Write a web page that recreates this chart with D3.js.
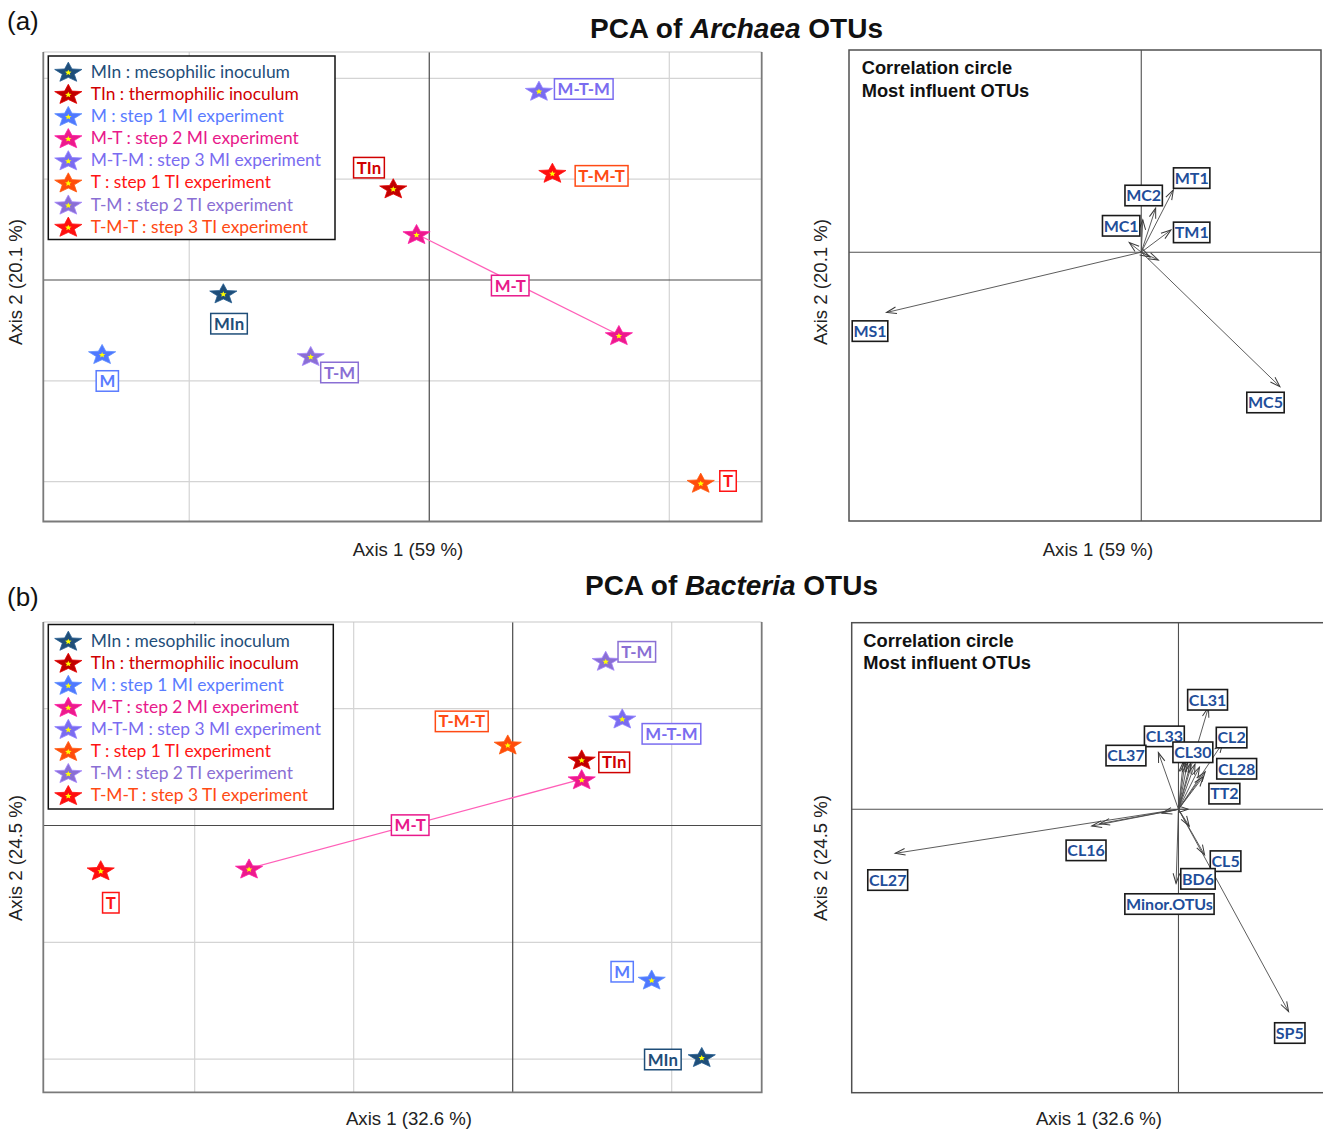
<!DOCTYPE html>
<html>
<head>
<meta charset="utf-8">
<script src="https://cdn.jsdelivr.net/npm/d3@7"></script>
<style>
  body { margin: 0; background: #fff; }
  svg { display: block; }
</style>
</head>
<body>
<svg id="fig" width="1323" height="1129"></svg>
<script>
// ---------- sample groups ----------
const groups = ["MIn", "TIn", "M", "M-T", "M-T-M", "T", "T-M", "T-M-T"];
const legendLabels = [
  "MIn : mesophilic inoculum",
  "TIn : thermophilic inoculum",
  "M : step 1 MI experiment",
  "M-T : step 2 MI experiment",
  "M-T-M : step 3 MI experiment",
  "T : step 1 TI experiment",
  "T-M : step 2 TI experiment",
  "T-M-T : step 3 TI experiment"
];
const markerColors = ["#1f4e79", "#c00000", "#4f78ff", "#ec1a8c", "#7a6cf0", "#ff4c0c", "#8a6fd4", "#ff0f0f"];
const textColors   = ["#1f4e79", "#d00000", "#5a7cff", "#e8198b", "#7a6cf0", "#ff1414", "#8a6fd4", "#ff4a14"];

// ---------- Archaea PCA : sample scores ----------
const archaeaSamples = ["MIn", "TIn", "M", "M-T", "M-T", "M-T-M", "T", "T-M", "T-M-T"];
const archaeaAxis1 = [-0.858, -0.150, -1.363, -0.053, 0.790, 0.457, 1.131, -0.494, 0.513];
const archaeaAxis2 = [-0.132, 0.910, -0.734, 0.456, -0.546, 1.878, -2.011, -0.754, 1.064];

// ---------- Archaea PCA : OTU correlation circle ----------
const archaeaOtus  = ["MS1", "MC5", "MT1", "MC2", "MC1", "TM1", "", "", ""];
const archaeaLoad1 = [-0.849, 0.462, 0.107, 0.048, 0.005, 0.099, -0.040, 0.057, 0.029];
const archaeaLoad2 = [-0.201, -0.448, 0.208, 0.147, 0.108, 0.074, 0.032, -0.026, -0.016];
const archaeaOtuLab1 = [-0.904, 0.414, 0.168, 0.008, -0.067, 0.168];
const archaeaOtuLab2 = [-0.263, -0.501, 0.247, 0.189, 0.088, 0.066];

// ---------- Bacteria PCA : sample scores ----------
const bacteriaSamples = ["MIn", "TIn", "M", "M-T", "M-T", "M-T-M", "T", "T-M", "T-M-T"];
const bacteriaAxis1 = [1.189, 0.434, 0.874, 0.434, -1.658, 0.689, -2.591, 0.585, -0.031];
const bacteriaAxis2 = [-1.981, 0.565, -1.318, 0.396, -0.368, 0.916, -0.383, 1.409, 0.693];

// ---------- Bacteria PCA : OTU correlation circle ----------
const bacteriaOtus  = ["CL27", "CL16", "SP5", "CL5", "BD6", "Minor.OTUs", "CL31", "CL33", "CL37", "CL30", "CL2", "CL28", "TT2",
                       "", "", "", "", "", "", ""];
const bacteriaLoad1 = [-0.944, -0.289, 0.367, 0.087, 0.036, -0.008, 0.100, 0.016, -0.067, 0.022, 0.148, 0.089, 0.083,
                       -0.262, -0.055, 0.033, 0.030, 0.040, 0.055, 0.070];
const bacteriaLoad2 = [-0.147, -0.056, -0.675, -0.152, -0.056, -0.247, 0.340, 0.158, 0.189, 0.158, 0.222, 0.125, 0.109,
                       -0.048, -0.013, 0.000, 0.155, 0.153, 0.150, 0.140];
const bacteriaOtuLab1 = [-0.969, -0.308, 0.371, 0.157, 0.065, -0.030, 0.097, -0.047, -0.175, 0.048, 0.177, 0.194, 0.153];
const bacteriaOtuLab2 = [-0.236, -0.137, -0.746, -0.173, -0.232, -0.316, 0.365, 0.243, 0.179, 0.190, 0.239, 0.135, 0.052];

// ---------- panel layout ----------
const panels = [
  {
    tag: "(a)", tagY: 29.5, titleX: 736.5, titleY: 37.5, taxon: "Archaea",
    ax1: "Axis 1 (59 %)", ax2: "Axis 2 (20.1 %)",
    samples: archaeaSamples, s1: archaeaAxis1, s2: archaeaAxis2,
    pointColor: {},
    scatter: { left: 43.3, right: 761.7, top: 52, bottom: 521.5, xDom: [-1.608, 1.385], yDom: [-2.396, 2.262],
               xTicks: [-1, 0, 1], yTicks: [-2, -1, 0, 1, 2] },
    legend: { x: 48.3, y: 56, w: 286.7, h: 183.5, row0: 71.7, rowStep: 22.14 },
    labelOffsets: { "MIn": [5.7, 30.4], "M": [5.2, 27], "T-M": [28.8, 16.5], "M-T-M": [44.8, -1.7],
                    "TIn": [-24.3, -20.6], "T-M-T": [49.2, 3.1], "T": [27.3, -1.7], "M-T": [-7.5, 1] },
    otus: archaeaOtus, l1: archaeaLoad1, l2: archaeaLoad2, lab1: archaeaOtuLab1, lab2: archaeaOtuLab2,
    circle: { left: 849, right: 1321, top: 50, bottom: 521, xDom: [-0.974, 0.599], yDom: [-0.896, 0.674], titleX: 861.7, titleY: 74 },
    axisY: 555.5, scatterAxisX: 408, circleAxisX: 1098, ax2Y: 282
  },
  {
    tag: "(b)", tagY: 605.5, titleX: 731.5, titleY: 594.5, taxon: "Bacteria",
    ax1: "Axis 1 (32.6 %)", ax2: "Axis 2 (24.5 %)",
    samples: bacteriaSamples, s1: bacteriaAxis1, s2: bacteriaAxis2,
    pointColor: { "T": "#ff0f0f", "T-M-T": "#ff4c0c" },
    scatter: { left: 43.3, right: 761.7, top: 622, bottom: 1092.3, xDom: [-2.952, 1.566], yDom: [-2.283, 1.741],
               xTicks: [-2, -1, 0, 1], yTicks: [-2, -1, 0, 1] },
    legend: { x: 48.3, y: 624.5, w: 285, h: 184.5, row0: 640.7, rowStep: 22.05 },
    labelOffsets: { "MIn": [-38.9, 2.5], "M": [-29.5, -7.8], "T-M": [31.1, -9], "M-T-M": [49.2, 15.4],
                    "TIn": [32.5, 2.9], "T-M-T": [-46, -23.1], "T": [10.1, 32.5], "M-T": [-5.2, 1.3] },
    otus: bacteriaOtus, l1: bacteriaLoad1, l2: bacteriaLoad2, lab1: bacteriaOtuLab1, lab2: bacteriaOtuLab2,
    circle: { left: 851.7, right: 1330, top: 622.7, bottom: 1092.7, xDom: [-1.089, 0.505], yDom: [-0.945, 0.622], titleX: 863.3, titleY: 646.7 },
    axisY: 1124.5, scatterAxisX: 409, circleAxisX: 1099, ax2Y: 858
  }
];

const SANS = "'Liberation Sans', Arial, sans-serif";
const LABELFONT = "Lato, 'Open Sans', sans-serif";

const svg = d3.select("#fig");
const defs = svg.append("defs");
defs.append("marker")
  .attr("id", "openArrow")
  .attr("viewBox", "-12 -6 14 12")
  .attr("refX", 0).attr("refY", 0)
  .attr("markerWidth", 14).attr("markerHeight", 12)
  .attr("markerUnits", "userSpaceOnUse")
  .attr("orient", "auto")
  .append("path")
  .attr("d", "M-10,-3.3L0,0L-10,3.3")
  .attr("fill", "none")
  .attr("stroke", "#3a3a3a")
  .attr("stroke-width", 1);

// five-pointed star, slightly flattened like the spreadsheet marker
function starD(R, ratio, squash) {
  const pts = d3.range(10).map(k => {
    const a = -Math.PI / 2 + k * Math.PI / 5;
    const r = k % 2 ? R * ratio : R;
    return [r * Math.cos(a), r * Math.sin(a) * squash];
  });
  return d3.line()(pts) + "Z";
}
const starOuter = 14.3;
const starPath = starD(starOuter, 0.44, 0.74);
const starDot  = starD(3.4, 0.45, 0.9);
const starShift = 0.0955 * starOuter * 0.74;

function drawStar(g, cx, cy, color) {
  const s = g.append("g").attr("transform", `translate(${cx},${cy + starShift})`);
  s.append("path").attr("d", starPath)
    .attr("fill", color).attr("stroke", d3.color(color).brighter(0.5)).attr("stroke-width", 0.8)
    .attr("stroke-linejoin", "miter");
  s.append("path").attr("d", starDot).attr("fill", "#ffff00");
}

function boxLabel(g, cx, cy, text, o) {
  const grp = g.append("g");
  const rect = grp.append("rect");
  const t = grp.append("text")
    .attr("x", cx).attr("y", cy + o.size * 0.36)
    .attr("text-anchor", "middle")
    .attr("font-family", LABELFONT)
    .attr("font-weight", 700)
    .attr("font-size", o.size)
    .attr("fill", o.color)
    .text(text);
  const w = t.node().getComputedTextLength();
  rect.attr("x", cx - w / 2 - o.pad).attr("y", cy - o.h / 2)
    .attr("width", w + 2 * o.pad).attr("height", o.h)
    .attr("fill", "#fff").attr("stroke", o.stroke).attr("stroke-width", o.sw);
}

function drawScatter(p) {
  const c = p.scatter;
  const g = svg.append("g");
  const x = d3.scaleLinear().domain(c.xDom).range([c.left, c.right]);
  const y = d3.scaleLinear().domain(c.yDom).range([c.bottom, c.top]);

  // light grid
  g.selectAll(null).data(c.xTicks.filter(t => t !== 0)).join("line")
    .attr("x1", d => x(d)).attr("x2", d => x(d)).attr("y1", c.top).attr("y2", c.bottom)
    .attr("stroke", "#d4d4d4").attr("stroke-width", 1.2);
  g.selectAll(null).data(c.yTicks.filter(t => t !== 0)).join("line")
    .attr("y1", d => y(d)).attr("y2", d => y(d)).attr("x1", c.left).attr("x2", c.right)
    .attr("stroke", "#d4d4d4").attr("stroke-width", 1.2);
  // zero axes
  g.append("line").attr("x1", x(0)).attr("x2", x(0)).attr("y1", c.top).attr("y2", c.bottom)
    .attr("stroke", "#4a4a4a").attr("stroke-width", 1.2);
  g.append("line").attr("y1", y(0)).attr("y2", y(0)).attr("x1", c.left).attr("x2", c.right)
    .attr("stroke", "#4a4a4a").attr("stroke-width", 1.2);
  // plot frame
  g.append("line").attr("x1", c.left).attr("x2", c.right).attr("y1", c.top).attr("y2", c.top)
    .attr("stroke", "#c8c8c8").attr("stroke-width", 1.2);
  g.append("path")
    .attr("d", `M${c.left},${c.top}V${c.bottom}H${c.right}V${c.top}`)
    .attr("fill", "none").attr("stroke", "#7a7a7a").attr("stroke-width", 1.8);

  // legend
  const L = p.legend;
  const lg = g.append("g");
  lg.append("rect").attr("x", L.x).attr("y", L.y).attr("width", L.w).attr("height", L.h)
    .attr("fill", "#fff").attr("stroke", "#111").attr("stroke-width", 1.5);
  groups.forEach((grp, i) => {
    const ry = L.row0 + i * L.rowStep;
    drawStar(lg, 68.3, ry, markerColors[i]);
    lg.append("text").attr("x", 90.7).attr("y", ry + 6)
      .attr("font-family", LABELFONT).attr("font-size", 17.4)
      .attr("fill", textColors[i]).text(legendLabels[i]);
  });

  // points
  const pts = p.samples.map((s, i) => ({ s, px: x(p.s1[i]), py: y(p.s2[i]), k: groups.indexOf(s) }));
  // M-T trajectory segment
  const mt = pts.filter(d => d.s === "M-T");
  g.append("line").attr("x1", mt[0].px).attr("y1", mt[0].py).attr("x2", mt[1].px).attr("y2", mt[1].py)
    .attr("stroke", "#ff5fb8").attr("stroke-width", 1.3);
  pts.forEach(d => drawStar(g, d.px, d.py, p.pointColor[d.s] || markerColors[d.k]));

  // labels
  const done = new Set();
  pts.forEach(d => {
    if (done.has(d.s)) return;
    done.add(d.s);
    const off = p.labelOffsets[d.s];
    let cx = d.px + off[0], cy = d.py + off[1];
    if (d.s === "M-T") {
      cx = (mt[0].px + mt[1].px) / 2 + off[0];
      cy = (mt[0].py + mt[1].py) / 2 + off[1];
    }
    boxLabel(g, cx, cy, d.s, { size: 16.8, color: textColors[d.k], stroke: textColors[d.k], pad: 3.2, h: 20.5, sw: 1.5 });
  });

  // axis titles
  svg.append("text").attr("x", p.scatterAxisX).attr("y", p.axisY).attr("text-anchor", "middle")
    .attr("font-family", SANS).attr("font-size", 18.6).attr("fill", "#222").text(p.ax1);
  svg.append("text").attr("transform", `translate(22,${p.ax2Y}) rotate(-90)`).attr("text-anchor", "middle")
    .attr("font-family", SANS).attr("font-size", 18.6).attr("fill", "#222").text(p.ax2);
}

function drawCircle(p) {
  const c = p.circle;
  const g = svg.append("g");
  const x = d3.scaleLinear().domain(c.xDom).range([c.left, c.right]);
  const y = d3.scaleLinear().domain(c.yDom).range([c.bottom, c.top]);

  g.append("rect").attr("x", c.left).attr("y", c.top).attr("width", c.right - c.left).attr("height", c.bottom - c.top)
    .attr("fill", "#fff").attr("stroke", "#505050").attr("stroke-width", 1.5);
  g.append("line").attr("x1", x(0)).attr("x2", x(0)).attr("y1", c.top).attr("y2", c.bottom)
    .attr("stroke", "#505050").attr("stroke-width", 1.1);
  g.append("line").attr("y1", y(0)).attr("y2", y(0)).attr("x1", c.left).attr("x2", c.right)
    .attr("stroke", "#505050").attr("stroke-width", 1.1);

  g.append("text").attr("x", c.titleX).attr("y", c.titleY)
    .attr("font-family", SANS).attr("font-weight", 700).attr("font-size", 18.3).attr("fill", "#111")
    .text("Correlation circle");
  g.append("text").attr("x", c.titleX).attr("y", c.titleY + 22.7)
    .attr("font-family", SANS).attr("font-weight", 700).attr("font-size", 18.3).attr("fill", "#111")
    .text("Most influent OTUs");

  // loading arrows
  g.selectAll(null).data(p.otus.map((n, i) => i)).join("line")
    .attr("x1", x(0)).attr("y1", y(0))
    .attr("x2", i => x(p.l1[i])).attr("y2", i => y(p.l2[i]))
    .attr("stroke", "#4a4a4a").attr("stroke-width", 0.9)
    .attr("marker-end", "url(#openArrow)");

  // OTU labels
  p.otus.forEach((n, i) => {
    if (!n) return;
    boxLabel(g, x(p.lab1[i]), y(p.lab2[i]), n, { size: 16, color: "#1f4e9a", stroke: "#1a1a1a", pad: 1.2, h: 20.5, sw: 1.6 });
  });

  svg.append("text").attr("x", p.circleAxisX).attr("y", p.axisY).attr("text-anchor", "middle")
    .attr("font-family", SANS).attr("font-size", 18.6).attr("fill", "#222").text(p.ax1);
  svg.append("text").attr("transform", `translate(827,${p.ax2Y}) rotate(-90)`).attr("text-anchor", "middle")
    .attr("font-family", SANS).attr("font-size", 18.6).attr("fill", "#222").text(p.ax2);
}

panels.forEach(p => {
  svg.append("text").attr("x", 7).attr("y", p.tagY)
    .attr("font-family", SANS).attr("font-size", 26).attr("fill", "#111").text(p.tag);
  const t = svg.append("text").attr("x", p.titleX).attr("y", p.titleY).attr("text-anchor", "middle")
    .attr("font-family", SANS).attr("font-weight", 700).attr("font-size", 28).attr("fill", "#111");
  t.append("tspan").text("PCA of ");
  t.append("tspan").attr("font-style", "italic").text(p.taxon);
  t.append("tspan").text(" OTUs");
  drawScatter(p);
  drawCircle(p);
});
</script>
</body>
</html>
